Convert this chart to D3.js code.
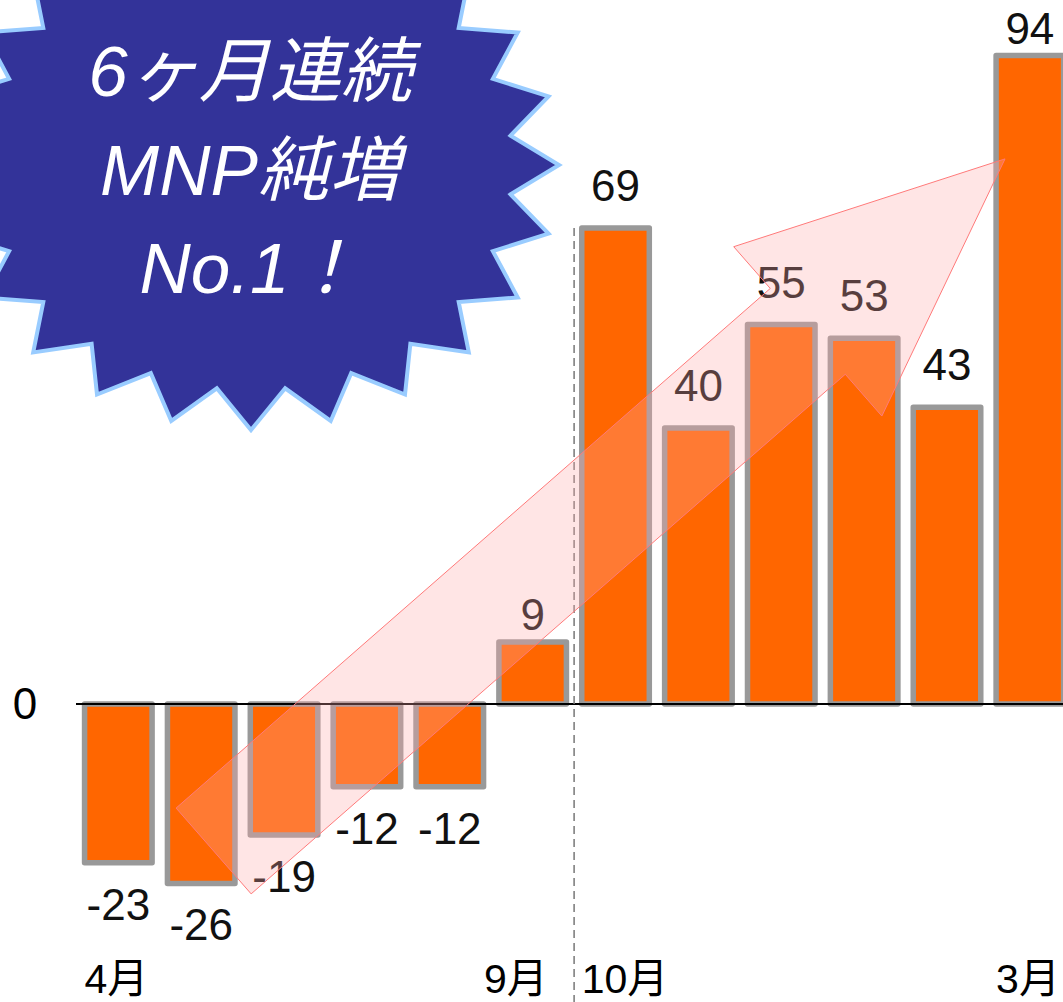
<!DOCTYPE html>
<html><head><meta charset="utf-8">
<script src="https://cdn.jsdelivr.net/npm/d3@7"></script>
<style>html,body{margin:0;padding:0;background:#fff;overflow:hidden}</style>
</head><body><svg id="c" width="1063" height="1002"></svg>
<script>
const categories = ["4月","5月","6月","7月","8月","9月","10月","11月","12月","1月","2月","3月"];
const values = [-23,-26,-19,-12,-12,9,69,40,55,53,43,94];
const tickLabels = ["4月","","","","","9月","10月","","","","","3月"];
const zeroLabel = ["0"];
const badgeLines = ["6ヶ月連続","MNP純増","No.1！"];
const arrowFrom = [1.15,-21.3];
const arrowTo = [10.7,79];

const W=1063,H=1002;
const FONT = "'Liberation Sans', Arial, 'Noto Sans CJK JP', sans-serif";
const svg = d3.select("#c");

const x = d3.scaleBand().domain(categories).range([76.9,1071.3]).paddingInner(0.185).paddingOuter(0.0925);
const bw = x.bandwidth();
const xi = d3.scaleLinear().domain([0,categories.length-1])
  .range([x(categories[0])+bw/2, x(categories[categories.length-1])+bw/2]);
const y = d3.scaleLinear().domain([-30,100]).range([911,14]);

// bars
svg.append("g").selectAll("rect").data(values).join("rect")
  .attr("x",(d,i)=>x(categories[i]))
  .attr("y",d=>y(Math.max(d,0)))
  .attr("width",bw)
  .attr("height",d=>Math.abs(y(d)-y(0)))
  .attr("fill","#ff6600")
  .attr("stroke","#999999")
  .attr("stroke-width",5.5)
  .attr("stroke-linejoin","round");

// zero line
svg.append("line").attr("x1",76).attr("x2",W).attr("y1",y(0)).attr("y2",y(0))
  .attr("stroke","#000").attr("stroke-width",2);

// divider
const divX = x(categories[5]) + bw + (x.step()-bw)/2;
svg.append("line").attr("x1",divX).attr("x2",divX).attr("y1",y(values[6])).attr("y2",H)
  .attr("stroke","#777").attr("stroke-width",1.5).attr("stroke-dasharray","8,5");

// value labels
svg.append("g").selectAll("text").data(values).join("text")
  .attr("x",(d,i)=>x(categories[i])+bw/2)
  .attr("y",d=> d>=0 ? Math.max(y(d)-(d<15?12:27),44) : y(d)+57)
  .attr("text-anchor","middle")
  .attr("font-family",FONT).attr("font-size",44).attr("fill","#111")
  .text(d=>d);

// zero label
svg.append("text").data(zeroLabel).attr("x",25).attr("y",y(0)+15)
  .attr("text-anchor","middle").attr("font-family",FONT).attr("font-size",44).attr("fill","#000")
  .text(d=>d);

// month labels
svg.append("g").selectAll("text").data(tickLabels).join("text")
  .attr("x",(d,i)=>x(categories[i]) + (i===5?-15:0))
  .attr("y",993)
  .attr("text-anchor","start")
  .attr("font-family",FONT).attr("font-size",41).attr("fill","#000")
  .text(d=>d);

// arrow
(function(){
  const T=[xi(arrowFrom[0]), y(arrowFrom[1])];
  const P=[xi(arrowTo[0]), y(arrowTo[1])];
  const dx=P[0]-T[0], dy=P[1]-T[1], L=Math.hypot(dx,dy);
  const u=[dx/L, dy/L], n=[u[1], -u[0]];
  const hw=57, hh=112.5, hl=262;
  const pt=(a,b)=>[T[0]+u[0]*a+n[0]*b, T[1]+u[1]*a+n[1]*b];
  const pts=[pt(0,hw),pt(L-hl,hw),pt(L-hl,hh),pt(L,0),pt(L-hl,-hh),pt(L-hl,-hw),pt(0,-hw)];
  svg.append("path").attr("d", d3.line()(pts)+"Z")
    .attr("fill","#ffaaaa").attr("fill-opacity",0.3)
    .attr("stroke","#ff7a7a").attr("stroke-width",1);
})();

// starburst badge
(function(){
  const cx=251, cy=165, Rx=308, Ry=265, k=0.85, N=24;
  const pts=[];
  for(let j=0;j<2*N;j++){
    const a=j*Math.PI/N, r=(j%2===0)?1:k;
    pts.push([cx+Rx*r*Math.cos(a), cy+Ry*r*Math.sin(a)]);
  }
  svg.append("path").attr("d", d3.line()(pts)+"Z")
    .attr("fill","#333399").attr("stroke","#99ccff").attr("stroke-width",4).attr("stroke-linejoin","miter");
  svg.append("g").selectAll("text").data(badgeLines).join("text")
    .attr("x",250).attr("y",(d,i)=>96+i*98.5)
    .attr("text-anchor","middle")
    .attr("font-family",FONT).attr("font-size",71).attr("font-style","italic").attr("fill","#fff")
    .text(d=>d);
})();
</script>
</body></html>
